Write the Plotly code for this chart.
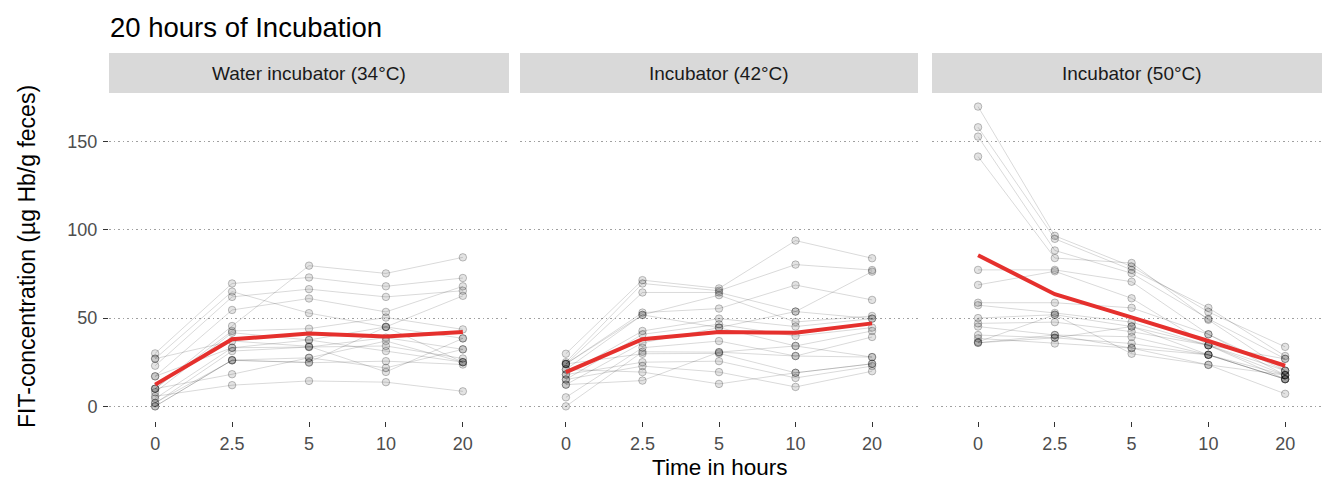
import plotly.graph_objects as go

# ---------------- data ----------------
time_labels = ["0", "2.5", "5", "10", "20"]
panel_titles = ["Water incubator (34°C)", "Incubator (42°C)", "Incubator (50°C)"]

water34 = [
    [30.0, 69.6, 73.0, 68.0, 72.7],
    [27.0, 65.0, 52.8, 45.0, 62.6],
    [23.0, 62.0, 66.4, 62.0, 65.5],
    [17.0, 54.6, 61.1, 53.5, 68.0],
    [10.0, 45.5, 79.7, 75.3, 84.4],
    [10.0, 42.7, 44.0, 50.3, 43.6],
    [8.0, 41.7, 37.6, 45.0, 38.5],
    [4.4, 33.2, 33.6, 38.9, 32.3],
    [1.7, 31.3, 33.6, 34.2, 27.1],
    [0.0, 26.2, 27.5, 37.0, 25.0],
    [0.0, 26.2, 24.7, 25.6, 23.7],
    [10.0, 18.2, 27.5, 21.8, 32.3],
    [5.7, 12.0, 14.4, 13.7, 8.5],
    [17.0, 33.2, 37.6, 31.3, 25.0],
    [27.0, 37.0, 34.0, 19.5, 38.5],
    [2.0, 26.0, 25.0, 45.0, 25.0],
]
inc42 = [
    [29.8, 71.5, 66.8, 93.9, 83.9],
    [25.0, 69.6, 65.5, 80.3, 77.2],
    [24.0, 64.5, 64.5, 53.7, 76.3],
    [24.0, 53.1, 55.4, 68.7, 60.3],
    [20.9, 51.8, 63.0, 47.8, 51.2],
    [18.0, 42.7, 49.7, 45.2, 49.7],
    [15.2, 40.8, 46.5, 39.8, 44.6],
    [12.3, 36.0, 44.6, 34.2, 42.7],
    [5.1, 33.2, 37.0, 28.5, 39.3],
    [0.0, 30.9, 30.7, 28.5, 27.9],
    [24.0, 29.8, 30.0, 19.0, 24.1],
    [18.0, 25.0, 25.6, 16.1, 22.8],
    [15.2, 22.8, 19.4, 11.0, 19.9],
    [20.9, 19.4, 12.7, 19.0, 24.1],
    [12.3, 14.6, 30.7, 34.2, 27.9],
    [24.0, 51.8, 44.6, 53.7, 49.7],
]
inc50 = [
    [169.8, 96.6, 79.2, 53.5, 33.7],
    [158.1, 94.9, 77.3, 55.8, 28.5],
    [152.8, 88.3, 75.4, 49.6, 26.9],
    [141.5, 84.0, 81.2, 49.0, 20.2],
    [77.3, 77.3, 70.6, 40.8, 17.7],
    [68.8, 76.5, 61.2, 34.6, 15.4],
    [58.7, 58.7, 55.8, 40.8, 20.2],
    [57.3, 52.9, 47.7, 34.6, 17.7],
    [50.0, 51.9, 45.2, 29.2, 15.4],
    [47.0, 47.7, 42.3, 34.6, 20.2],
    [45.2, 40.4, 39.4, 29.2, 17.7],
    [40.4, 38.8, 35.6, 29.2, 15.4],
    [38.5, 35.6, 33.0, 23.5, 7.1],
    [36.5, 51.9, 29.8, 23.5, 17.7],
    [36.0, 40.4, 33.0, 29.2, 15.4],
    [36.0, 38.8, 45.2, 34.6, 26.9],
]
mean34 = [12.3, 38.0, 41.2, 39.5, 42.1]
mean42 = [19.4, 38.0, 42.1, 41.7, 47.0]
mean50 = [85.6, 63.5, 50.4, 37.0, 23.0]

panels = [(water34, mean34), (inc42, mean42), (inc50, mean50)]

# ---------------- layout geometry (pixels) ----------------
W, H = 1322, 479
def px(x):
    return x / W
def py(y):
    return 1 - y / H

x_domains = [(px(109), px(509)), (px(520), px(918)), (px(932), 1.0)]
x_ranges = [[-0.6, 4.6], [-0.6, 4.6], [-0.6, 4.48]]
y_dom = [py(421), py(93)]
FONT = "Liberation Sans, Arial"

fig = go.Figure()

for i, (subjects, mean) in enumerate(panels):
    xa = "x" if i == 0 else f"x{i+1}"
    ya = "y" if i == 0 else f"y{i+1}"
    for s in subjects:
        fig.add_trace(go.Scatter(
            x=time_labels, y=s, xaxis=xa, yaxis=ya, mode="lines+markers",
            line=dict(color="rgba(0,0,0,0.15)", width=1),
            marker=dict(size=7.5, color="rgba(0,0,0,0.11)",
                        line=dict(color="rgba(0,0,0,0.24)", width=1)),
            showlegend=False, hoverinfo="skip"))
    fig.add_trace(go.Scatter(
        x=time_labels, y=mean, xaxis=xa, yaxis=ya, mode="lines",
        line=dict(color="#E5302D", width=4),
        showlegend=False, hoverinfo="skip"))

axis_common = dict(showline=False, zeroline=False)
for i in range(3):
    key = "xaxis" if i == 0 else f"xaxis{i+1}"
    fig.layout[key] = dict(
        domain=list(x_domains[i]), type="category", range=x_ranges[i],
        categoryorder="array", categoryarray=time_labels,
        showgrid=False, ticks="outside", ticklen=5, tickwidth=1,
        tickcolor="#333333", ticklabelstandoff=1,
        tickfont=dict(family=FONT, size=18, color="#4d4d4d"),
        anchor="y" if i == 0 else f"y{i+1}", **axis_common)
    ykey = "yaxis" if i == 0 else f"yaxis{i+1}"
    yd = dict(
        domain=y_dom, range=[-8.3, 177.5], tickvals=[0, 50, 100, 150],
        showgrid=True, gridcolor="#a0a0a0", gridwidth=1, griddash="1.5px,3px",
        anchor="x" if i == 0 else f"x{i+1}", **axis_common)
    if i == 0:
        yd.update(ticks="outside", ticklen=5, tickwidth=1, tickcolor="#333333",
                  ticklabelstandoff=2,
                  tickfont=dict(family=FONT, size=18, color="#4d4d4d"))
    else:
        yd.update(showticklabels=False, ticks="", matches="y")
    fig.layout[ykey] = yd

# strips
for i, title in enumerate(panel_titles):
    x0, x1 = x_domains[i]
    fig.add_shape(type="rect", xref="paper", yref="paper",
                  x0=x0, x1=x1, y0=py(93), y1=py(53),
                  fillcolor="#d9d9d9", line=dict(width=0), layer="below")
    cx = (x0 + px(200)) if i == 2 else (x0 + x1) / 2
    fig.add_annotation(x=cx, y=py(73), xref="paper", yref="paper", text=title,
                       showarrow=False, xanchor="center", yanchor="middle",
                       font=dict(family=FONT, size=19, color="#1a1a1a"))

# title
fig.add_annotation(x=px(108), y=py(28), xref="paper", yref="paper",
                   text="20 hours of Incubation", showarrow=False,
                   xanchor="left", yanchor="middle",
                   font=dict(family=FONT, size=27.5, color="#000000"))
# axis titles
fig.add_annotation(x=px(719), y=py(467), xref="paper", yref="paper",
                   text="Time in hours", showarrow=False,
                   xanchor="center", yanchor="middle",
                   font=dict(family=FONT, size=22.5, color="#000000"))
fig.add_annotation(x=px(27), y=py(257), xref="paper", yref="paper",
                   text="FIT-concentration (µg Hb/g feces)", showarrow=False,
                   textangle=-90, xanchor="center", yanchor="middle",
                   font=dict(family=FONT, size=23, color="#000000"))

fig.update_layout(width=W, height=H, margin=dict(l=0, r=0, t=0, b=0),
                  paper_bgcolor="white", plot_bgcolor="white")

fig.write_html("out.html", config={"displayModeBar": False},
               post_script="document.body.style.margin='0';document.body.style.overflow='hidden';")
